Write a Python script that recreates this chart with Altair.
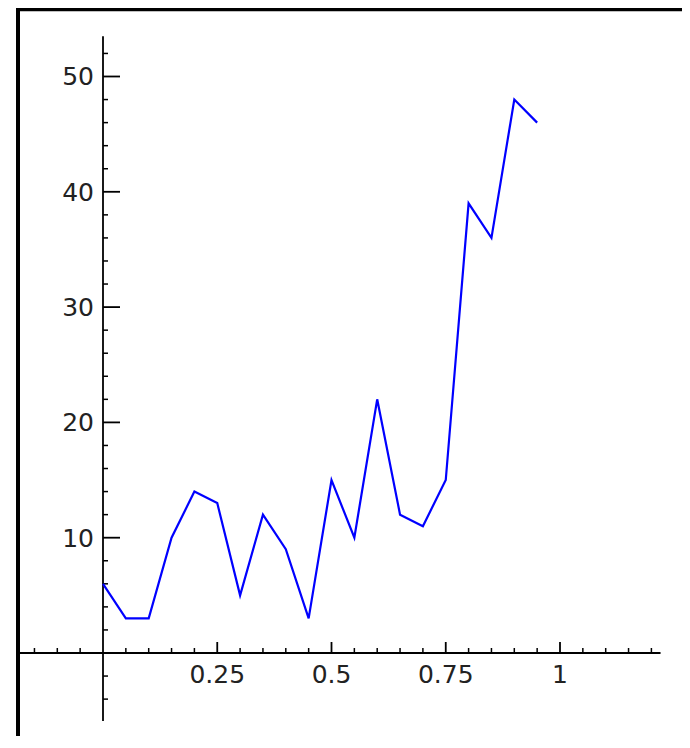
import altair as alt
import pandas as pd

# ---- data ----
x_vals = [0.0, 0.05, 0.1, 0.15, 0.2, 0.25, 0.3, 0.35, 0.4, 0.45,
          0.5, 0.55, 0.6, 0.65, 0.7, 0.75, 0.8, 0.85, 0.9, 0.95]
y_vals = [6, 3, 3, 10, 14, 13, 5, 12, 9, 3,
          15, 10, 22, 12, 11, 15, 39, 36, 48, 46]

x_major = [0.25, 0.5, 0.75, 1.0]
x_major_labels = ["0.25", "0.5", "0.75", "1"]
x_minor = [-0.15, -0.1, -0.05, 0.05, 0.1, 0.15, 0.2, 0.3, 0.35, 0.4, 0.45,
           0.55, 0.6, 0.65, 0.7, 0.8, 0.85, 0.9, 0.95, 1.05, 1.1, 1.15, 1.2]
y_major = [10, 20, 30, 40, 50]
y_major_labels = ["10", "20", "30", "40", "50"]
y_minor = [-4, -2, 2, 4, 6, 8, 12, 14, 16, 18, 22, 24, 26, 28, 32, 34, 36, 38,
           42, 44, 46, 48, 52]
x_axis_extent = [-0.1904, 1.22]
y_axis_extent = [-5.9, 53.5]

W, H = 666, 728
xs = alt.Scale(domain=[-0.190372, 1.266958], nice=False, zero=False)
ys = alt.Scale(domain=[-7.199, 55.941], nice=False, zero=False)

FONT = "DejaVu Sans"
TXT = "#222222"

line_df = pd.DataFrame({"x": x_vals, "y": y_vals})
xmaj_df = pd.DataFrame({"v": x_major, "label": x_major_labels, "z": 0})
xmin_df = pd.DataFrame({"v": x_minor, "z": 0})
ymaj_df = pd.DataFrame({"v": y_major, "label": y_major_labels, "z": 0})
ymin_df = pd.DataFrame({"v": y_minor, "z": 0})
xaxis_df = pd.DataFrame({"a": [x_axis_extent[0]], "b": [x_axis_extent[1]], "z": [0]})
yaxis_df = pd.DataFrame({"a": [y_axis_extent[0]], "b": [y_axis_extent[1]], "z": [0]})
frame_df = pd.DataFrame({"k": [0]})

X = lambda f: alt.X(f, type="quantitative", scale=xs, axis=None)
Y = lambda f: alt.Y(f, type="quantitative", scale=ys, axis=None)

xaxis = alt.Chart(xaxis_df).mark_rule(color="black", strokeWidth=1.8, clip=True).encode(
    x=X("a"), x2="b", y=Y("z"))
yaxis = alt.Chart(yaxis_df).mark_rule(color="black", strokeWidth=1.8, clip=True).encode(
    y=Y("a"), y2="b", x=X("z"))

xmaj_ticks = alt.Chart(xmaj_df).mark_rule(color="black", strokeWidth=1.8, y2Offset=-11, clip=True).encode(
    x=X("v"), y=Y("z"), y2="z")
xmin_ticks = alt.Chart(xmin_df).mark_rule(color="black", strokeWidth=1.5, y2Offset=-5, clip=True).encode(
    x=X("v"), y=Y("z"), y2="z")
ymaj_ticks = alt.Chart(ymaj_df).mark_rule(color="black", strokeWidth=1.8, x2Offset=17, clip=True).encode(
    y=Y("v"), x=X("z"), x2="z")
ymin_ticks = alt.Chart(ymin_df).mark_rule(color="black", strokeWidth=1.5, x2Offset=5, clip=True).encode(
    y=Y("v"), x=X("z"), x2="z")

xlabels = alt.Chart(xmaj_df).mark_text(
    align="center", baseline="alphabetic", dy=30, fontSize=25, font=FONT, color=TXT
).encode(x=X("v"), y=Y("z"), text="label")
ylabels = alt.Chart(ymaj_df).mark_text(
    align="right", baseline="alphabetic", dx=-9, dy=9, fontSize=25, font=FONT, color=TXT
).encode(x=X("z"), y=Y("v"), text="label")

line = alt.Chart(line_df).mark_line(color="#0000ff", strokeWidth=2.2).encode(
    x=X("x"), y=Y("y"))

frame_left = alt.Chart(frame_df).mark_rule(color="black", strokeWidth=4).encode(
    x=alt.value(2), y=alt.value(0), y2=alt.value(H))
frame_top = alt.Chart(frame_df).mark_rule(color="black", strokeWidth=3.5).encode(
    x=alt.value(0), x2=alt.value(W), y=alt.value(1.5))

chart = alt.layer(
    xaxis, yaxis, xmaj_ticks, xmin_ticks, ymaj_ticks, ymin_ticks,
    xlabels, ylabels, line, frame_left, frame_top
).properties(
    width=W, height=H,
    autosize=alt.AutoSizeParams(type="none"),
    padding={"left": 8, "top": 0, "right": 0, "bottom": 0},
    background="white",
).configure_view(stroke=None)

chart.save("out.html", embed_options={"renderer": "svg", "actions": False})
